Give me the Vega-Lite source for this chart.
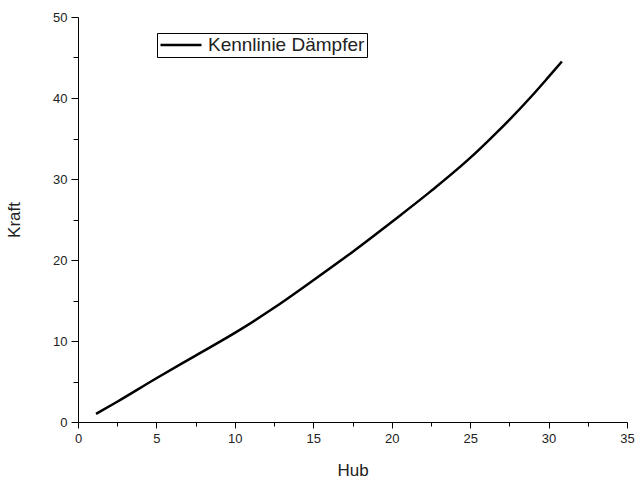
{
  "$schema": "https://vega.github.io/schema/vega-lite/v6.json",
  "width": 549,
  "height": 405,
  "autosize": {"type": "none"},
  "padding": {"left": 78, "top": 17, "right": 13, "bottom": 65},
  "background": "white",
  "config": {
    "view": {"stroke": null},
    "font": "Liberation Sans"
  },
  "data": {
    "values": [
      {"Hub": 1.15, "Kraft": 1.0, "Serie": "Kennlinie Dämpfer"},
      {"Hub": 2.5, "Kraft": 2.5, "Serie": "Kennlinie Dämpfer"},
      {"Hub": 5, "Kraft": 5.4, "Serie": "Kennlinie Dämpfer"},
      {"Hub": 7.5, "Kraft": 8.2, "Serie": "Kennlinie Dämpfer"},
      {"Hub": 10, "Kraft": 11.0, "Serie": "Kennlinie Dämpfer"},
      {"Hub": 12.5, "Kraft": 14.1, "Serie": "Kennlinie Dämpfer"},
      {"Hub": 15, "Kraft": 17.5, "Serie": "Kennlinie Dämpfer"},
      {"Hub": 17.5, "Kraft": 21.0, "Serie": "Kennlinie Dämpfer"},
      {"Hub": 20, "Kraft": 24.7, "Serie": "Kennlinie Dämpfer"},
      {"Hub": 22.5, "Kraft": 28.5, "Serie": "Kennlinie Dämpfer"},
      {"Hub": 25, "Kraft": 32.6, "Serie": "Kennlinie Dämpfer"},
      {"Hub": 26.25, "Kraft": 34.9, "Serie": "Kennlinie Dämpfer"},
      {"Hub": 27.5, "Kraft": 37.3, "Serie": "Kennlinie Dämpfer"},
      {"Hub": 29, "Kraft": 40.4, "Serie": "Kennlinie Dämpfer"},
      {"Hub": 30, "Kraft": 42.6, "Serie": "Kennlinie Dämpfer"},
      {"Hub": 30.85, "Kraft": 44.5, "Serie": "Kennlinie Dämpfer"}
    ]
  },
  "mark": {"type": "line", "strokeWidth": 2.5, "interpolate": "monotone"},
  "encoding": {
    "x": {
      "field": "Hub",
      "type": "quantitative",
      "scale": {"domain": [0, 35], "nice": false, "zero": false},
      "axis": {
        "title": "Hub",
        "titleFontSize": 17,
        "titleFontWeight": "normal",
        "titleColor": "#222",
        "titlePadding": 17,
        "values": [0, 2.5, 5, 7.5, 10, 12.5, 15, 17.5, 20, 22.5, 25, 27.5, 30, 32.5, 35],
        "labelExpr": "datum.value % 5 == 0 ? datum.label : ''",
        "labelFontSize": 13,
        "labelColor": "#222",
        "labelPadding": 4,
        "labelFlush": false,
        "grid": false,
        "domainColor": "black",
        "tickColor": "black",
        "tickSize": {"condition": {"test": "datum.value % 5 == 0", "value": 6}, "value": 4}
      }
    },
    "y": {
      "field": "Kraft",
      "type": "quantitative",
      "scale": {"domain": [0, 50], "nice": false, "zero": false},
      "axis": {
        "title": "Kraft",
        "titleFontSize": 17,
        "titleFontWeight": "normal",
        "titleColor": "#222",
        "titlePadding": 29,
        "values": [0, 5, 10, 15, 20, 25, 30, 35, 40, 45, 50],
        "labelExpr": "datum.value % 10 == 0 ? datum.label : ''",
        "labelFontSize": 13,
        "labelColor": "#222",
        "labelPadding": 4,
        "labelFlush": false,
        "grid": false,
        "domainColor": "black",
        "tickColor": "black",
        "tickSize": {"condition": {"test": "datum.value % 10 == 0", "value": 7}, "value": 5}
      }
    },
    "color": {
      "field": "Serie",
      "type": "nominal",
      "scale": {"range": ["black"]},
      "legend": {
        "title": null,
        "orient": "none",
        "legendX": 79,
        "legendY": 16,
        "strokeColor": "black",
        "padding": 2,
        "clipHeight": 20,
        "symbolType": "stroke",
        "symbolSize": 1681,
        "symbolStrokeWidth": 2.5,
        "labelFontSize": 19,
        "labelColor": "#222",
        "labelOffset": 5
      }
    }
  }
}
